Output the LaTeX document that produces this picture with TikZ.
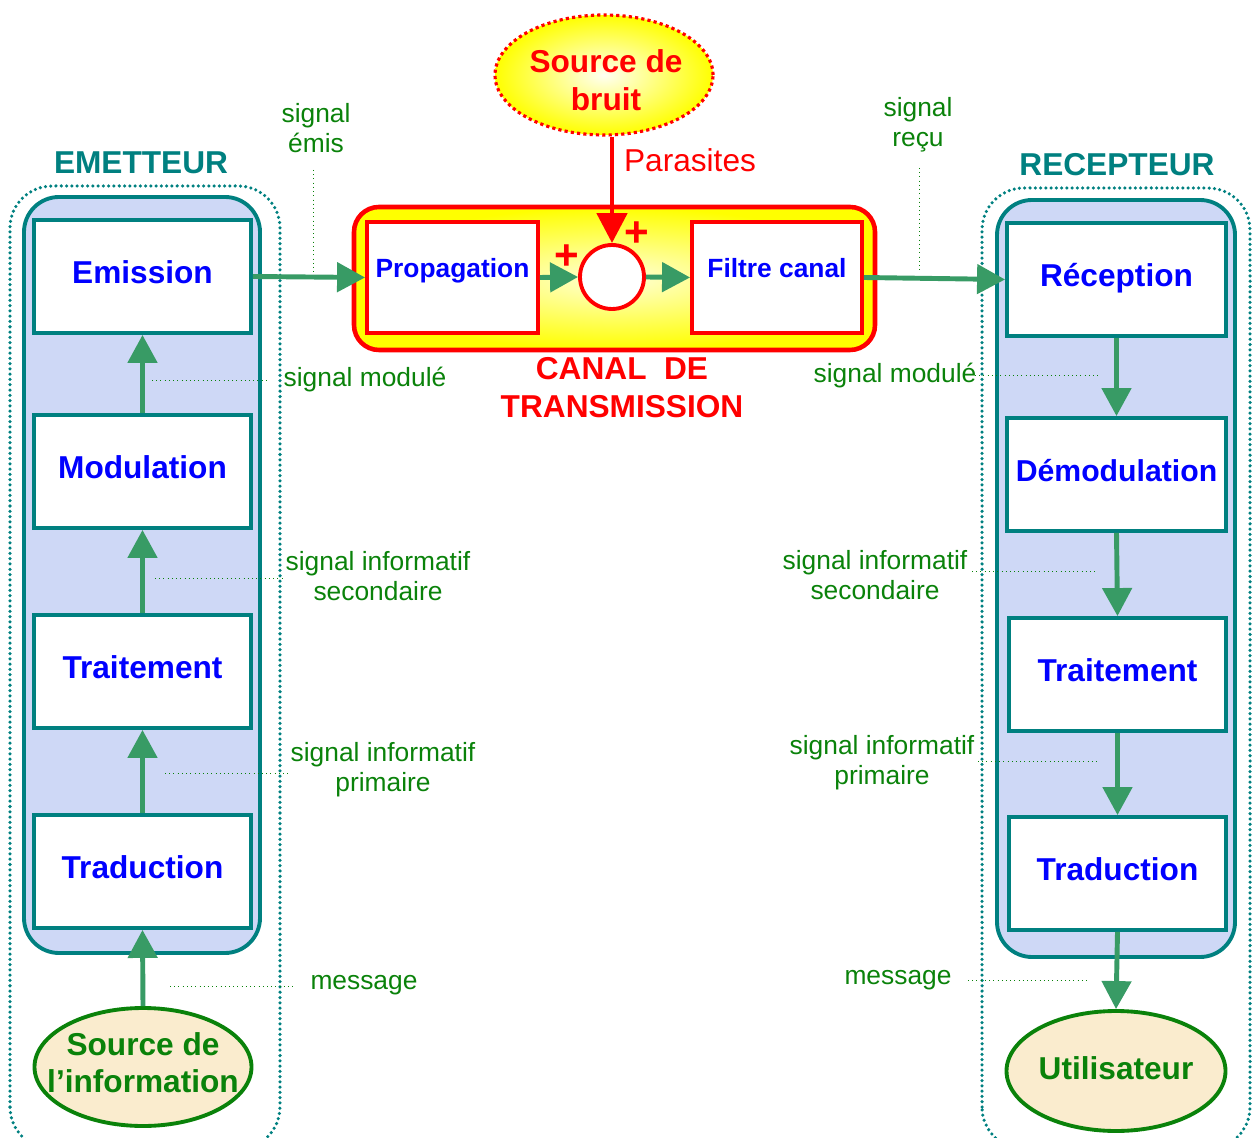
\documentclass[tikz,border=0pt]{standalone}
\usepackage{fontspec}
\setmainfont{Liberation Sans}
\usetikzlibrary{arrows.meta}
\usetikzlibrary{shapes.geometric}

\definecolor{bordteal}{RGB}{0,128,128}
\definecolor{flgreen}{RGB}{56,155,101}
\definecolor{txgreen}{RGB}{10,130,10}
\definecolor{fondbleu}{RGB}{206,216,246}
\definecolor{beige}{RGB}{250,236,206}

\begin{document}
\begin{tikzpicture}[
  bloc/.style={rectangle,draw=bordteal,line width=1.1pt,fill=white,minimum width=2.17cm,minimum height=1.13cm,inner sep=0pt,text height=0.23cm,text depth=0.09cm,text=blue,font=\fontsize{9}{10.8}\selectfont\bfseries},
  blocc/.style={rectangle,draw=red,line width=1.1pt,fill=white,minimum width=1.71cm,minimum height=1.11cm,inner sep=0pt,text height=0.19cm,text depth=0.19cm,text=blue,font=\fontsize{7.5}{9}\selectfont\bfseries},
  extremite/.style={ellipse,draw=txgreen,line width=1.1pt,fill=beige,inner sep=0pt,minimum width=2.17cm,minimum height=1.18cm},
  extremtexte/.style={text=txgreen,align=center,font=\fontsize{9}{10.6}\selectfont\bfseries},
  bruit/.style={ellipse,draw=red,line width=0.9pt,dash pattern=on 0.9pt off 0.9pt,inner color=yellow!5,outer color=yellow,inner sep=0pt,minimum width=2.18cm,minimum height=1.20cm},
  rouge/.style={text=red,align=center,font=\fontsize{9}{10.8}\selectfont\bfseries},
  somme/.style={circle,draw=red,line width=1.1pt,fill=white,minimum size=0.64cm,inner sep=0pt},
  fleche/.style={draw=flgreen,line width=1.4pt,-{Triangle[length=0.28cm,width=0.29cm]}},
  flecherouge/.style={draw=red,line width=1.4pt,-{Triangle[length=0.3cm,width=0.3cm]}},
  lbl/.style={text=txgreen,align=center,font=\fontsize{7.5}{8.6}\selectfont},
  guide/.style={draw=txgreen,densely dotted,very thin},
  titre/.style={text=bordteal,font=\fontsize{9}{10.8}\selectfont\bfseries},
  cadre/.style={draw=bordteal,line width=1pt,line cap=round,dash pattern=on 0pt off 1.5pt,rounded corners=0.42cm},
  fond/.style={draw=bordteal,line width=1.1pt,fill=fondbleu,rounded corners=0.35cm},
]
\useasboundingbox (0,0) rectangle (12.53,11.37);
\clip (0,0) rectangle (12.53,11.37);

% emetteur
\draw[cadre] (0.10,-0.12) rectangle (2.80,9.51);
\draw[fond] (0.24,1.84) rectangle (2.60,9.40);
\node[titre] (emet) at (1.41,9.74) {EMETTEUR};
\node[bloc] (emission) at (1.425,8.605) {Emission};
\node[bloc] (modul) at (1.425,6.655) {Modulation};
\node[bloc] (trait) at (1.425,4.655) {Traitement};
\node[bloc] (trad) at (1.425,2.655) {Traduction};
\node[extremite] (source) at (1.43,0.70) {};
\node[extremtexte] (sourcetxt) at (1.43,0.74) {Source de\\l’information};

\draw[fleche] (source.north) -- (trad.south);
\draw[fleche] (trad.north) -- (trait.south);
\draw[fleche] (trait.north) -- (modul.south);
\draw[fleche] (modul.north) -- (emission.south);

% recepteur
\draw[cadre] (9.82,-0.12) rectangle (12.50,9.49);
\draw[fond] (9.97,1.80) rectangle (12.35,9.37);
\node[titre] (recepteur) at (11.17,9.72) {RECEPTEUR};
\node[bloc,minimum width=2.19cm] (recep) at (11.165,8.575) {Réception};
\node[bloc,minimum width=2.19cm,font=\fontsize{8.6}{10}\selectfont\bfseries] (demod) at (11.165,6.625) {Démodulation};
\node[bloc,minimum width=2.17cm] (trait2) at (11.175,4.625) {Traitement};
\node[bloc,minimum width=2.17cm] (trad2) at (11.175,2.635) {Traduction};
\node[extremite,minimum width=2.19cm,minimum height=1.20cm] (util) at (11.16,0.66) {};
\node[extremtexte] (utiltxt) at (11.16,0.69) {Utilisateur};

\draw[fleche] (recep.south) -- (demod.north);
\draw[fleche] (demod.south) -- (trait2.north);
\draw[fleche] (trait2.south) -- (trad2.north);
\draw[fleche] (trad2.south) -- (util.north);

% canal de transmission
\draw[draw=red,line width=1.3pt,rounded corners=0.25cm,inner color=yellow!15,outer color=yellow] (3.54,7.87) rectangle (8.75,9.30);
\node[blocc] (propag) at (4.525,8.595) {Propagation};
\node[blocc,minimum width=1.70cm] (filtre) at (7.77,8.595) {Filtre canal};
\node[somme] (sum) at (6.12,8.60) {};
\node[rouge,font=\fontsize{12}{12}\selectfont\bfseries] (plus1) at (5.67,8.80) {+};
\node[rouge,font=\fontsize{12}{12}\selectfont\bfseries] (plus2) at (6.37,9.03) {+};
\node[rouge] (canal) at (6.22,7.49) {CANAL\ \ DE\\TRANSMISSION};

\node[bruit] (bruit) at (6.04,10.62) {};
\node[rouge] (bruittxt) at (6.06,10.57) {Source de\\bruit};
\node[text=red,font=\fontsize{9}{10.8}\selectfont] (parasites) at (6.90,9.77) {Parasites};
\draw[flecherouge] (sum.north |- bruit.south) -- (sum.north);

\draw[fleche] (emission.east) -- (propag.west);
\draw[fleche] (propag.east) -- (sum.west);
\draw[fleche] (sum.east) -- (filtre.west);
\draw[fleche] (filtre.east) -- (recep.west);

% etiquettes cote emetteur
\node[lbl] (lemis) at (3.16,10.09) {signal\\émis};
\draw[guide] (3.13,9.67) -- (3.13,8.65);
\node[lbl] (lmod) at (3.65,7.57) {signal modulé};
\draw[guide] (1.52,7.57) -- (2.70,7.57);
\node[lbl] (lsec) at (3.78,5.61) {signal informatif\\secondaire};
\draw[guide] (1.55,5.59) -- (2.85,5.59);
\node[lbl] (lprim) at (3.83,3.67) {signal informatif\\primaire};
\draw[guide] (1.65,3.64) -- (2.90,3.64);
\node[lbl] (lmess) at (3.64,1.52) {message};
\draw[guide] (1.70,1.51) -- (2.93,1.51);

% etiquettes cote recepteur
\node[lbl] (lrecu) at (9.18,10.12) {signal\\reçu};
\draw[guide] (9.19,9.69) -- (9.19,8.67);
\node[lbl] (lmod2) at (8.95,7.61) {signal modulé};
\draw[guide] (9.75,7.62) -- (11.00,7.62);
\node[lbl] (lsec2) at (8.75,5.62) {signal informatif\\secondaire};
\draw[guide] (9.72,5.66) -- (10.95,5.66);
\node[lbl] (lprim2) at (8.82,3.74) {signal informatif\\primaire};
\draw[guide] (9.78,3.76) -- (11.00,3.76);
\node[lbl] (lmess2) at (8.98,1.57) {message};
\draw[guide] (9.68,1.57) -- (10.90,1.57);

\end{tikzpicture}
\end{document}
